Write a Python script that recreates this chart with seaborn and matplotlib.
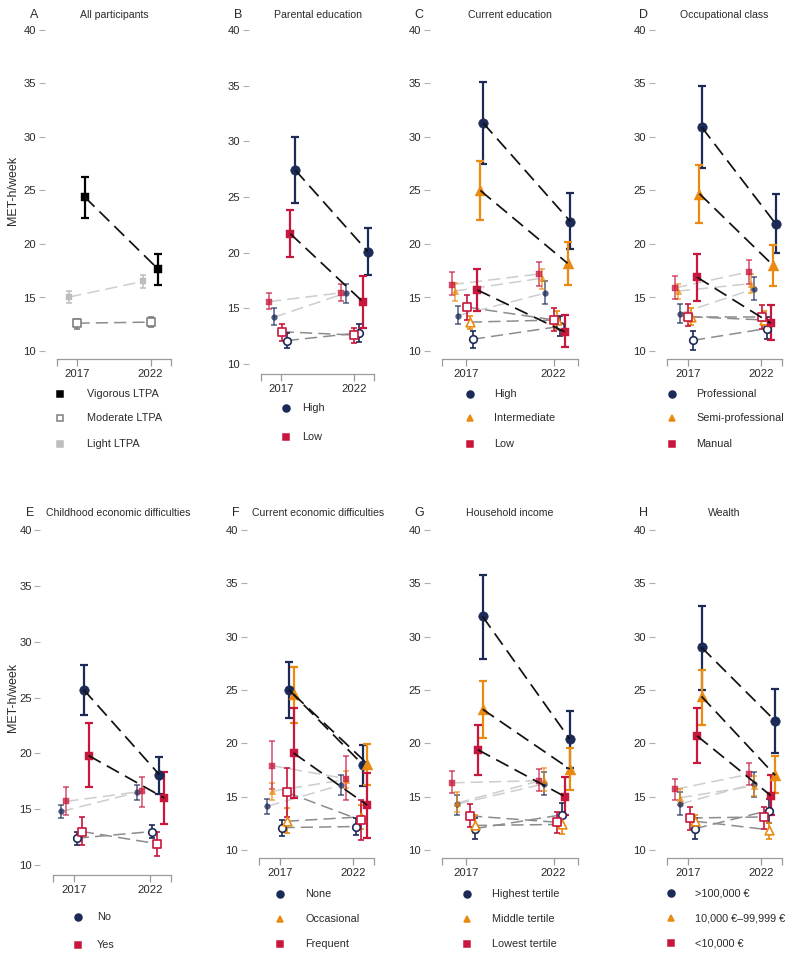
import numpy as np
import pandas as pd
import matplotlib
matplotlib.use("Agg")
import matplotlib.pyplot as plt
import seaborn as sns
from matplotlib.lines import Line2D

# ---------------- data: (mean, lower CI, upper CI) for [2017, 2022] per group ----------------
YEARS = ["2017", "2022"]

A_groups = ["All participants"]
A_vigorous = [[(24.4, 22.4, 26.3), (17.7, 16.2, 19.1)]]
A_moderate = [[(12.6, 12.1, 13.0), (12.7, 12.2, 13.2)]]
A_light = [[(15.05, 14.5, 15.6), (16.5, 15.9, 17.1)]]

B_groups = ["High", "Low"]
B_vigorous = [[(27.4, 24.5, 30.4), (20.1, 18.0, 22.2)], [(21.7, 19.6, 23.8), (15.6, 13.2, 17.9)]]
B_moderate = [[(12.1, 11.4, 12.8), (12.8, 12.0, 13.6)], [(12.9, 12.1, 13.6), (12.6, 11.9, 13.2)]]
B_light = [[(14.2, 13.5, 15.0), (16.4, 15.5, 17.2)], [(15.6, 14.9, 16.4), (16.4, 15.7, 17.2)]]

C_groups = ["High", "Intermediate", "Low"]
C_vigorous = [[(31.3, 27.5, 35.1), (22.1, 19.5, 24.8)], [(25.0, 22.2, 27.8), (18.2, 16.2, 20.2)],
              [(15.7, 13.7, 17.7), (11.8, 10.4, 13.4)]]
C_moderate = [[(11.1, 10.3, 11.9), (12.3, 11.4, 13.3)], [(12.7, 12.1, 13.3), (12.9, 12.1, 13.7)],
              [(14.1, 12.9, 15.2), (12.9, 11.9, 14.0)]]
C_light = [[(13.3, 12.5, 14.2), (15.4, 14.4, 16.5)], [(15.6, 14.7, 16.4), (16.8, 15.8, 17.7)],
           [(16.2, 15.2, 17.4), (17.2, 16.1, 18.3)]]

D_groups = ["Professional", "Semi-professional", "Manual"]
D_vigorous = [[(30.9, 27.1, 34.8), (21.9, 19.2, 24.7)], [(24.7, 22.0, 27.4), (18.0, 16.1, 19.9)],
              [(16.9, 14.7, 19.1), (12.6, 11.0, 14.3)]]
D_moderate = [[(11.0, 10.1, 11.9), (12.1, 11.1, 13.2)], [(13.2, 12.4, 14.0), (12.9, 12.1, 13.7)],
              [(13.2, 12.3, 14.4), (13.2, 12.1, 14.3)]]
D_light = [[(13.5, 12.6, 14.4), (15.8, 14.8, 16.9)], [(15.6, 14.9, 16.3), (16.3, 15.4, 17.2)],
           [(15.9, 14.9, 17.0), (17.4, 16.3, 18.5)]]

E_groups = ["No", "Yes"]
E_vigorous = [[(25.7, 23.4, 27.9), (18.1, 16.4, 19.7)], [(19.8, 17.0, 22.7), (16.0, 13.7, 18.3)]]
E_moderate = [[(12.4, 11.8, 13.0), (13.0, 12.4, 13.6)], [(13.0, 11.8, 14.3), (11.9, 10.8, 13.0)]]
E_light = [[(14.8, 14.2, 15.4), (16.5, 15.8, 17.2)], [(15.7, 14.5, 17.0), (16.6, 15.2, 17.9)]]

F_groups = ["None", "Occasional", "Frequent"]
F_vigorous = [[(25.0, 22.4, 27.6), (18.0, 16.0, 19.8)], [(24.6, 21.9, 27.2), (18.1, 16.1, 19.9)],
              [(19.1, 14.9, 23.3), (14.2, 11.1, 17.2)]]
F_moderate = [[(12.1, 11.3, 12.8), (12.2, 11.4, 13.0)], [(12.7, 11.6, 13.9), (13.1, 12.0, 14.2)],
              [(15.4, 13.1, 17.7), (12.8, 10.9, 14.7)]]
F_light = [[(14.1, 13.4, 14.8), (16.1, 15.2, 17.0)], [(15.5, 14.7, 16.3), (16.6, 15.8, 17.4)],
           [(17.9, 15.7, 20.2), (16.7, 14.7, 18.8)]]

G_groups = ["Highest tertile", "Middle tertile", "Lowest tertile"]
G_vigorous = [[(31.9, 27.9, 35.8), (20.4, 17.7, 23.0)], [(23.2, 20.5, 25.8), (17.6, 15.6, 19.6)],
              [(19.4, 17.0, 21.7), (15.0, 13.3, 16.8)]]
G_moderate = [[(12.0, 11.0, 13.0), (13.3, 12.2, 14.4)], [(12.3, 11.6, 13.3), (12.4, 11.5, 13.3)],
              [(13.2, 12.2, 14.3), (12.6, 11.6, 13.6)]]
G_light = [[(14.3, 13.3, 15.2), (16.2, 15.2, 17.3)], [(14.4, 13.6, 15.4), (16.6, 15.5, 17.7)],
           [(16.3, 15.3, 17.4), (16.5, 15.5, 17.6)]]

H_groups = [">100,000 €", "10,000 €–99,999 €", "<10,000 €"]
H_vigorous = [[(29.0, 25.0, 32.9), (22.1, 19.1, 25.1)], [(24.4, 21.7, 26.9), (17.0, 15.3, 18.8)],
              [(20.7, 18.2, 23.3), (15.1, 13.3, 17.0)]]
H_moderate = [[(12.0, 11.0, 13.0), (13.7, 12.5, 14.8)], [(12.7, 11.9, 13.3), (11.9, 11.0, 12.5)],
              [(13.0, 11.9, 14.0), (13.1, 12.0, 14.0)]]
H_light = [[(14.3, 13.3, 15.4), (16.2, 15.0, 17.3)], [(14.9, 14.2, 15.7), (16.0, 15.1, 16.9)],
           [(15.7, 14.7, 16.7), (17.1, 16.1, 18.2)]]

A_legend = ["Vigorous LTPA", "Moderate LTPA", "Light LTPA"]

# ---------------- style ----------------
sns.set_theme(style="white")
plt.rcParams["font.family"] = ["Liberation Sans", "DejaVu Sans"]

W, H = 794, 955
NAVY, ORANGE, RED = "#1b2a57", "#ea8a10", "#c8163c"
COL3 = [NAVY, ORANGE, RED]
MRK3 = ["o", "^", "s"]
TXT = "#2a2a2a"

fig = plt.figure(figsize=(W / 100, H / 100), dpi=100)


def fx(px):
    return px / W


def fy(py):
    return 1 - py / H


def make_axes(x0, x1, y40, y10, yline):
    ax = fig.add_axes([fx(x0), fy(yline), (x1 - x0) / W, (yline - y40) / H])
    pxunit = (y10 - y40) / 30.0
    ax.set_ylim(10 - (yline - y10) / pxunit, 40)
    xmin, xmax = -0.28, 1.28
    ax.set_xlim(xmin, xmax)
    ax.set_facecolor("none")
    for s in ["top", "right"]:
        ax.spines[s].set_visible(False)
    ax.spines["left"].set_position(("outward", 9))
    ax.spines["left"].set_visible(False)
    ax.spines["bottom"].set_color("#9a9a9a")
    ax.spines["bottom"].set_linewidth(0.9)
    ax.set_yticks([10, 15, 20, 25, 30, 35, 40])
    ax.set_xticks([xmin, 0, 1, xmax])
    ax.set_xticklabels(["", YEARS[0], YEARS[1], ""])
    ax.tick_params(axis="y", left=True, length=4, width=0.8, color="#b0b0b0",
                   labelsize=8.1, labelcolor=TXT, pad=2)
    ax.tick_params(axis="x", bottom=True, length=5, width=0.9, color="#9a9a9a",
                   labelsize=8.1, labelcolor=TXT, pad=2.5)
    ax.grid(False)
    ax.set_xlabel("")
    ax.set_ylabel("")
    return ax


def draw_panel(ax, groups, series, colors, markers, goffs, toffs, line_cols, gray=False):
    rows = []
    for t, data in series.items():
        for gi, g in enumerate(groups):
            for yi in range(2):
                m, lo, hi = data[gi][yi]
                rows.append(dict(type=t, gi=gi, group=g, x=yi + toffs[t] + goffs[gi],
                                 y=m, lo=lo, hi=hi))
    df = pd.DataFrame(rows)
    for t in ["light", "moderate", "vigorous"]:
        for gi, g in enumerate(groups):
            sub = df[(df["type"] == t) & (df["gi"] == gi)]
            c = colors[t] if gray else colors[gi]
            mk = markers[gi]
            if t == "light":
                alpha, elw, cap, s = (1.0 if gray else 0.75), 1.1, 2.3, 17
            elif t == "moderate":
                alpha, elw, cap, s = 1.0, 1.2, 2.5, 30
            else:
                alpha, elw, cap, s = 1.0, 1.6, 2.6, 48
            if mk == "^":
                s = s * 1.3
            if mk == "s":
                s = s * 0.85
            ax.errorbar(sub["x"], sub["y"], yerr=[sub["y"] - sub["lo"], sub["hi"] - sub["y"]],
                        fmt="none", ecolor=c, elinewidth=elw, capsize=cap, capthick=elw,
                        alpha=alpha, zorder=2)
            if t == "moderate":
                sns.scatterplot(data=sub, x="x", y="y", marker=mk, s=s, color=c,
                                facecolor="white", edgecolor=c, linewidth=1.2,
                                ax=ax, zorder=3, legend=False)
            else:
                sns.scatterplot(data=sub, x="x", y="y", marker=mk, s=s, color=c,
                                edgecolor=c, linewidth=0.3, alpha=alpha,
                                ax=ax, zorder=3, legend=False)
            ax.plot(sub["x"], sub["y"], color=line_cols[t], lw=line_cols[t + "_lw"],
                    dashes=(8, 4), zorder=4 if t == "vigorous" else 1.5)
    ax.set_xlabel("")
    ax.set_ylabel("")


LINE_COLS = {"light": "#cdcdcd", "light_lw": 1.1, "moderate": "#8c8c8c", "moderate_lw": 1.1,
             "vigorous": "#111111", "vigorous_lw": 1.25}
GRAY_COLS = {"light": "#bdbdbd", "moderate": "#7f7f7f", "vigorous": "#000000"}


def titles(ax_x0, ax_x1, y, letter, title, tcx=None):
    fig.text(fx(ax_x0 - 23), fy(y), letter, ha="center", va="center", fontsize=9, color=TXT)
    cx = (ax_x0 + ax_x1) / 2 if tcx is None else tcx
    fig.text(fx(cx), fy(y), title, ha="center", va="center", fontsize=7.6, color=TXT)


def legend(xm, xt, ys, labels, markers, colors, mfcs=None, sizes=None):
    for i, (lab, y) in enumerate(zip(labels, ys)):
        mfc = colors[i] if mfcs is None else mfcs[i]
        ms = 5 if sizes is None else sizes[i]
        fig.add_artist(Line2D([fx(xm)], [fy(y)], transform=fig.transFigure, marker=markers[i],
                              ms=ms, color=colors[i], mfc=mfc, mew=1.1, ls="none"))
        fig.text(fx(xt), fy(y), lab, ha="left", va="center", fontsize=7.8, color=TXT)


TOFF_A = {"light": -0.11, "moderate": 0.0, "vigorous": 0.097}
TOFF_1 = {"light": -0.135, "moderate": 0.04, "vigorous": 0.16}
TOFF_2 = {"light": -0.135, "moderate": 0.068, "vigorous": 0.158}

panels = [
    ("A", 57, 171, 30, 351, 359, 15, "All participants", None, A_groups,
     {"light": A_light, "moderate": A_moderate, "vigorous": A_vigorous}, [0.0], TOFF_A),
    ("B", 261, 374, 30, 364, 374, 15, "Parental education", None, B_groups,
     {"light": B_light, "moderate": B_moderate, "vigorous": B_vigorous}, [0.035, -0.035], TOFF_1),
    ("C", 442, 578, 30, 351, 359, 15, "Current education", None, C_groups,
     {"light": C_light, "moderate": C_moderate, "vigorous": C_vigorous}, [0.033, 0.0, -0.033], TOFF_1),
    ("D", 667, 782, 30, 351, 359, 15, "Occupational class", None, D_groups,
     {"light": D_light, "moderate": D_moderate, "vigorous": D_vigorous}, [0.033, 0.0, -0.033], TOFF_1),
    ("E", 53, 171, 530, 865, 875, 513, "Childhood economic difficulties", 118, E_groups,
     {"light": E_light, "moderate": E_moderate, "vigorous": E_vigorous}, [-0.033, 0.033], TOFF_2),
    ("F", 259, 374, 530, 850, 858, 513, "Current economic difficulties", 318, F_groups,
     {"light": F_light, "moderate": F_moderate, "vigorous": F_vigorous}, [-0.03, 0.03, 0.03], TOFF_2),
    ("G", 442, 578, 530, 850, 858, 513, "Household income", None, G_groups,
     {"light": G_light, "moderate": G_moderate, "vigorous": G_vigorous}, [0.027, 0.027, -0.027], TOFF_2),
    ("H", 667, 782, 530, 850, 858, 513, "Wealth", None, H_groups,
     {"light": H_light, "moderate": H_moderate, "vigorous": H_vigorous}, [0.03, 0.03, -0.03], TOFF_2),
]

for (letter, x0, x1, y40, y10, yline, ty, title, tcx, groups, series, goffs, toffs) in panels:
    ax = make_axes(x0, x1, y40, y10, yline)
    if letter == "A":
        draw_panel(ax, groups, series, GRAY_COLS, ["s"], goffs, toffs, LINE_COLS, gray=True)
    elif len(groups) == 2:
        draw_panel(ax, groups, series, [NAVY, RED], ["o", "s"], goffs, toffs, LINE_COLS)
    else:
        draw_panel(ax, groups, series, COL3, MRK3, goffs, toffs, LINE_COLS)
    titles(x0, x1, ty, letter, title, tcx)
    if letter in ("A", "E"):
        fig.text(fx(13), fy((y40 + y10) / 2), "MET-h/week", rotation=90, ha="center",
                 va="center", fontsize=9, color=TXT)

# legends
legend(60, 87, [394, 418, 444], A_legend, ["s", "s", "s"], ["#000000", "#7f7f7f", "#bdbdbd"],
       mfcs=["#000000", "white", "#bdbdbd"], sizes=[5, 5, 4])
legend(286, 302, [408, 437], B_groups, ["o", "s"], [NAVY, RED])
legend(470, 494, [394, 418, 444], C_groups, MRK3, COL3)
legend(672, 696, [394, 418, 444], D_groups, MRK3, COL3)
legend(78, 97, [917, 945], E_groups, ["o", "s"], [NAVY, RED])
legend(280, 305, [894, 919, 944], F_groups, MRK3, COL3)
legend(467, 492, [894, 919, 944], G_groups, MRK3, COL3)
legend(671, 695, [893, 918, 943], H_groups, MRK3, COL3)

fig.savefig("out.png", dpi=100, facecolor="white")
